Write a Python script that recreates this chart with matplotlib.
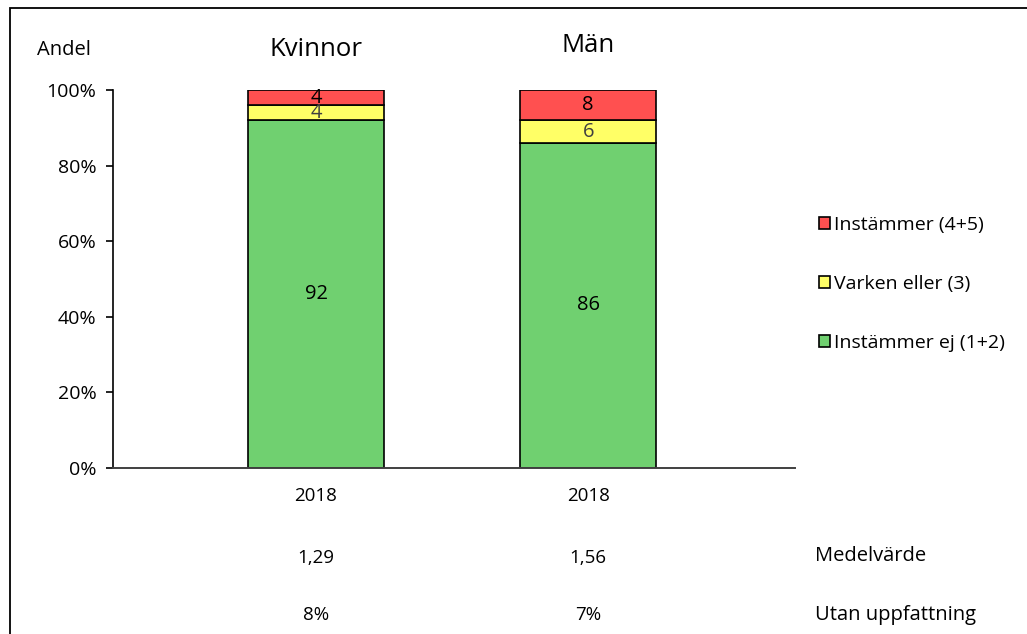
import matplotlib
matplotlib.use("Agg")
from matplotlib import pyplot as plt
from matplotlib.patches import Patch, Rectangle
import numpy as np

plt.rcParams['font.family'] = ['Open Sans', 'DejaVu Sans']

# data
groups = ['Kvinnor', 'Män']
years = ['2018', '2018']
instammer_ej = [92, 86]   # 1+2
varken = [4, 6]           # 3
instammer = [4, 8]        # 4+5
medel = ['1,29', '1,56']
utan = ['8%', '7%']

c_green = '#70D070'
c_yellow = '#FFFF66'
c_red = '#FF5050'

W, H = 1027, 634
fig = plt.figure(figsize=(W / 100, H / 100), dpi=100)
ax = fig.add_axes([113 / W, 1 - 468 / H, 682 / W, 378 / H])

x = np.arange(len(groups))
bw = 0.5
green = np.array(instammer_ej)
yellow = np.array(varken)
red = np.array(instammer)

ax.bar(x, green, bw, color=c_green, edgecolor='black', linewidth=1.2)
ax.bar(x, yellow, bw, bottom=green, color=c_yellow, edgecolor='black', linewidth=1.2)
ax.bar(x, red, bw, bottom=green + yellow, color=c_red, edgecolor='black', linewidth=1.2)

for i in range(len(x)):
    ax.text(x[i], green[i] / 2, str(green[i]), ha='center', va='center', fontsize=14.5)
    ax.text(x[i], green[i] + yellow[i] / 2, str(yellow[i]), ha='center', va='center',
            fontsize=14.5, color='#404040')
    ax.text(x[i], green[i] + yellow[i] + red[i] / 2, str(red[i]), ha='center', va='center',
            fontsize=14.5)

ax.set_xlim(-0.746, 1.76)
ax.set_ylim(0, 100)
ax.set_yticks([0, 20, 40, 60, 80, 100])
ax.set_yticklabels(['0%', '20%', '40%', '60%', '80%', '100%'], fontsize=14)
ax.set_xticks(x)
ax.set_xticklabels(years, fontsize=13.5)
ax.tick_params(axis='x', length=0, pad=14)
ax.tick_params(axis='y', length=5, width=1.2, direction='out', pad=7)
for s in ['top', 'right']:
    ax.spines[s].set_visible(False)
ax.spines['left'].set_linewidth(1.2)
ax.spines['bottom'].set_linewidth(1.4)
ax.spines['bottom'].set_color('#404040')

# group headings and y label
fig.text(37 / W, 1 - 50 / H, 'Andel', fontsize=14.5, va='center', ha='left')
for i, g in enumerate(groups):
    xf = ax.transData.transform((x[i], 0))[0] / W
    fig.text(xf, 1 - (50 if i == 0 else 46) / H, g, fontsize=18.5, ha='center', va='center')
    fig.text(xf, 1 - 558 / H, medel[i], fontsize=13.5, ha='center', va='center')
    fig.text(xf, 1 - 615 / H, utan[i], fontsize=13.5, ha='center', va='center')

fig.text(815 / W, 1 - 556 / H, 'Medelvärde', fontsize=14.5, ha='left', va='center')
fig.text(815 / W, 1 - 615 / H, 'Utan uppfattning', fontsize=14.5, ha='left', va='center')

handles = [Patch(facecolor=c_red, edgecolor='black', linewidth=1.2),
           Patch(facecolor=c_yellow, edgecolor='black', linewidth=1.2),
           Patch(facecolor=c_green, edgecolor='black', linewidth=1.2)]
labels = ['Instämmer (4+5)', 'Varken eller (3)', 'Instämmer ej (1+2)']
fig.legend(handles, labels, loc='center left', bbox_to_anchor=(809 / W, 1 - 284 / H),
           frameon=False, fontsize=14, handlelength=0.6, handleheight=0.6,
           handletextpad=0.2, labelspacing=2.1, borderpad=0)

# outer frame of the chart area
fig.patches.append(Rectangle((10 / W, -0.1), 1.2, 1.1 - 8 / H, transform=fig.transFigure,
                             fill=False, edgecolor='black', linewidth=1.3))

plt.savefig('out.png', dpi=100)
plt.close()
